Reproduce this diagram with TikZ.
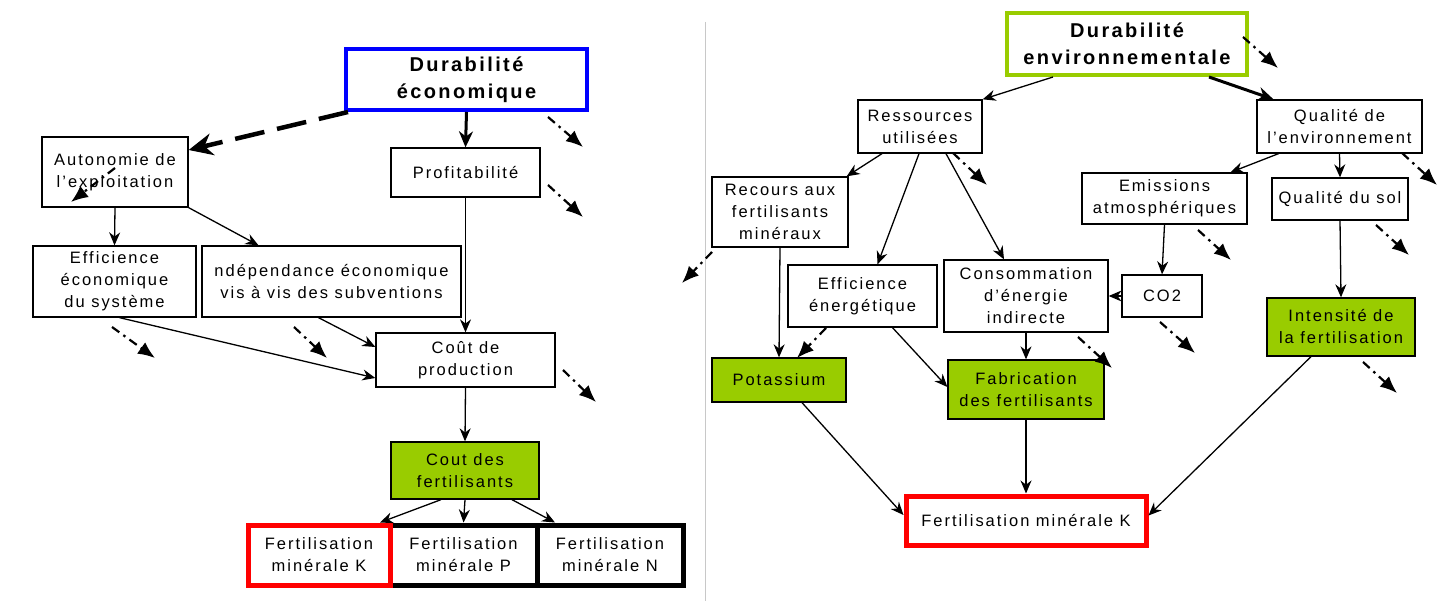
\documentclass[tikz,border=0pt]{standalone}
\usepackage{fontspec}
\setmainfont{Liberation Sans}[LetterSpace=12]
\usetikzlibrary{arrows.meta}
\definecolor{fgreen}{RGB}{153,204,0}
\definecolor{sepgray}{RGB}{200,200,200}
\begin{document}
\begin{tikzpicture}[x=1pt,y=-1pt,
  box/.style={draw, line width=1.3pt, align=center, inner sep=0pt,
    font=\fontsize{16.5}{22}\selectfont},
  gbox/.style={box, fill=fgreen},
  titlebox/.style={draw, line width=4pt, align=center, inner sep=0pt, fill=white,
    font=\fontsize{20}{27}\selectfont\bfseries},
  kbox/.style={box, draw=red, line width=5pt},
  pbox/.style={box, line width=5pt},
  conn/.style={line width=1.3pt, -{Stealth[length=13pt,width=11pt]}},
  thickconn/.style={line width=3pt, -{Stealth[length=16pt,width=14pt]}},
  dangle/.style={line width=2.2pt, dash pattern=on 9pt off 5pt on 2.5pt off 5pt,
    -{Latex[length=17pt,width=14pt]}},
  bigdash/.style={line width=4.5pt, dash pattern=on 30pt off 13pt,
    -{Stealth[length=24pt,width=22pt]}}
]
\useasboundingbox (0,0) rectangle (1439,601);
\fill[white] (0,0) rectangle (1439,601);
\draw[sepgray, line width=1pt] (705,22) -- (705,601);

% ---------------- left ----------------
\node[titlebox, draw=blue, minimum width=241pt, minimum height=61pt] (due) at (466.5,79.5) {Durabilité\\économique};
\node[box, minimum width=146pt, minimum height=70pt] (auto) at (115,172) {Autonomie de\\l'exploitation};
\node[box, minimum width=149pt, minimum height=49pt] (prof) at (465.5,172.5) {Profitabilité};
\node[box, minimum width=163pt, minimum height=71pt] (effe) at (114.5,281.5) {Efficience\\économique\\du système};
\node[box, minimum width=259pt, minimum height=71pt] (inde) at (331.5,281.5) {ndépendance économique\\vis à vis des subventions};
\node[box, minimum width=179pt, minimum height=54pt] (cout) at (465.5,360) {Coût de\\production};
\node[gbox, minimum width=148pt, minimum height=57pt] (cfer) at (465,470.5) {Cout des\\fertilisants};
\node[pbox, minimum width=147pt, minimum height=60pt] (fp) at (463.5,555) {Fertilisation\\minérale P};
\node[pbox, minimum width=146pt, minimum height=60pt] (fn) at (610,555) {Fertilisation\\minérale N};
\node[kbox, minimum width=142pt, minimum height=60pt] (fk) at (319,555) {Fertilisation\\minérale K};

\draw[bigdash] ([xshift=4pt]due.south west) -- ([yshift=22pt]auto.east);
\draw[thickconn] (due.south) -- (prof.north);
\draw[conn] (auto.south) -- (effe.north);
\draw[conn] (auto.south east) -- ([xshift=-73pt]inde.north);
\draw[conn] (prof.south) -- (cout.north);
\draw[conn] ([xshift=5pt]effe.south) -- ([yshift=-18pt]cout.west);
\draw[conn] ([xshift=-13pt]inde.south) -- ([yshift=13pt]cout.west);
\draw[conn] (cout.south) -- (cfer.north);
\draw[conn] ([xshift=-24pt]cfer.south) -- ([xshift=61pt]fk.north);
\draw[conn] (cfer.south) -- (fp.north);
\draw[conn] ([xshift=47pt]cfer.south) -- ([xshift=-55pt]fn.north);

\coordinate (l1a) at (548,117); \coordinate (l1b) at (583,147);
\coordinate (l2a) at (548,185); \coordinate (l2b) at (583,217);
\coordinate (l3a) at (115,168); \coordinate (l3b) at (71,202);
\coordinate (l4a) at (112,327); \coordinate (l4b) at (155,358);
\coordinate (l5a) at (294,327); \coordinate (l5b) at (327,358);
\coordinate (l6a) at (563,370); \coordinate (l6b) at (596,402);
\foreach \n in {l1,l2,l3,l4,l5,l6} \draw[dangle] (\n a) -- (\n b);

% ---------------- right ----------------
\node[titlebox, draw=fgreen, minimum width=240pt, minimum height=62pt] (denv) at (1127,44) {Durabilité\\environnementale};
\node[box, minimum width=124pt, minimum height=53pt] (res) at (920,126.5) {Ressources\\utilisées};
\node[box, minimum width=165pt, minimum height=53pt] (qenv) at (1339.5,126.5) {Qualité de\\l'environnement};
\node[box, minimum width=136pt, minimum height=70pt] (rec) at (780,212) {Recours aux\\fertilisants\\minéraux};
\node[box, minimum width=165pt, minimum height=51pt] (emi) at (1164.5,198.5) {Emissions\\atmosphériques};
\node[box, minimum width=136pt, minimum height=42pt] (qsol) at (1340,199) {Qualité du sol};
\node[box, minimum width=149pt, minimum height=62pt] (effen) at (862.5,296) {Efficience\\énergétique};
\node[box, minimum width=164pt, minimum height=72pt] (cons) at (1026,296) {Consommation\\d'énergie\\indirecte};
\node[box, minimum width=80pt, minimum height=42pt] (co2) at (1162,296) {CO2};
\node[gbox, minimum width=148pt, minimum height=58pt] (inte) at (1341,327) {Intensité de\\la fertilisation};
\node[gbox, minimum width=134pt, minimum height=44pt] (pot) at (779,380) {Potassium};
\node[gbox, minimum width=156pt, minimum height=59pt] (fab) at (1026,389.5) {Fabrication\\des fertilisants};
\node[kbox, minimum width=240pt, minimum height=49pt] (fk2) at (1026,520.5) {Fertilisation minérale K};

\draw[conn] ([xshift=-74pt]denv.south) -- (res.north east);
\draw[thickconn] ([xshift=82pt]denv.south) -- ([xshift=-66pt]qenv.north);
\draw[conn] ([xshift=-38pt]res.south) -- ([xshift=-2pt]rec.north east);
\draw[conn] ([xshift=-1pt]res.south) -- ([xshift=15pt]effen.north);
\draw[conn] ([xshift=26pt]res.south) -- ([xshift=-22pt]cons.north);
\draw[conn] ([xshift=-61pt]qenv.south) -- ([xshift=66pt]emi.north);
\draw[conn] (qenv.south) -- (qsol.north);
\draw[conn] (emi.south) -- (co2.north);
\draw[conn] (qsol.south) -- (inte.north);
\draw[conn] (co2.west) -- (cons.east);
\draw[conn] (rec.south) -- (pot.north);
\draw[conn] ([xshift=30pt]effen.south) -- ([yshift=2.5pt]fab.west);
\draw[conn] (cons.south) -- (fab.north);
\draw[conn] (fab.south) -- (fk2.north);
\draw[conn] ([xshift=23pt]pot.south) -- ([yshift=5.5pt]fk2.west);
\draw[conn] ([xshift=-30pt]inte.south) -- ([yshift=5pt]fk2.east);

\coordinate (r1a) at (1243,37); \coordinate (r1b) at (1278,68);
\coordinate (r2a) at (953,153); \coordinate (r2b) at (987,185);
\coordinate (r3a) at (1402,153); \coordinate (r3b) at (1437,185);
\coordinate (r4a) at (1198,230); \coordinate (r4b) at (1231,260);
\coordinate (r5a) at (1376,225); \coordinate (r5b) at (1409,255);
\coordinate (r6a) at (712,252); \coordinate (r6b) at (682,283);
\coordinate (r7a) at (826,328); \coordinate (r7b) at (797,358);
\coordinate (r8a) at (1078,337); \coordinate (r8b) at (1112,368);
\coordinate (r9a) at (1160,322); \coordinate (r9b) at (1195,353);
\coordinate (r10a) at (1363,362); \coordinate (r10b) at (1397,393);
\foreach \n in {r1,r2,r3,r4,r5,r6,r7,r8,r9,r10} \draw[dangle] (\n a) -- (\n b);
\end{tikzpicture}
\end{document}
